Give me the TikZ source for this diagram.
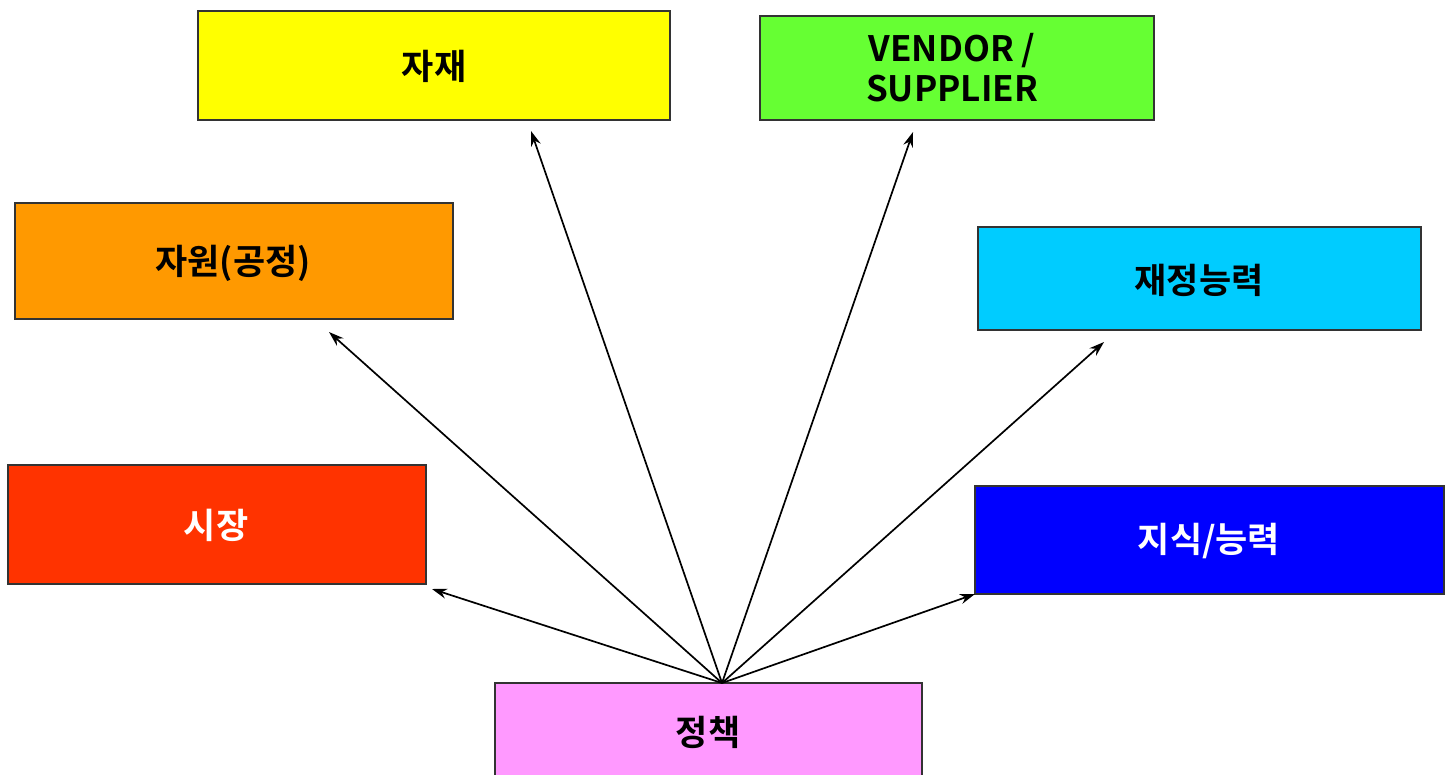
\documentclass[tikz,border=0pt]{standalone}
\usepackage{fontspec}
\newfontfamily\kr{Noto Sans CJK KR Bold}
\usetikzlibrary{arrows.meta}
\definecolor{cyel}{HTML}{FFFF00}
\definecolor{cgrn}{HTML}{66FF33}
\definecolor{corg}{HTML}{FF9900}
\definecolor{ccyn}{HTML}{00CCFF}
\definecolor{cred}{HTML}{FF3300}
\definecolor{cblu}{HTML}{0000FF}
\definecolor{cpnk}{HTML}{FF99FF}
\definecolor{cbrd}{HTML}{333333}
\begin{document}
\begin{tikzpicture}[x=1pt,y=-1pt,
  box/.style={draw=cbrd,line width=1.3pt,fill=#1},
  lbl/.style={font=\kr\fontsize{35}{40}\selectfont,align=center,inner sep=0pt},
  arr/.style={-{Stealth[length=15pt,width=10pt]},line width=1.7pt}]
\useasboundingbox (0,0) rectangle (1450,774);
\clip (0,0) rectangle (1450,774);
\draw[box=cyel] (198,11) rectangle (670,120);
\draw[box=cgrn] (760,16) rectangle (1154,120);
\draw[box=corg] (15,203) rectangle (453,319);
\draw[box=ccyn] (978,227) rectangle (1421,330);
\draw[box=cred] (8,465) rectangle (426,584);
\draw[box=cblu] (975,486) rectangle (1444,594);
\draw[box=cpnk] (495,683) rectangle (922,790);
\node[lbl] (jajae) at (434,66) {자재};
\node[lbl] (vendor) at (952,68) {VENDOR /\\SUPPLIER};
\node[lbl] (jawon) at (233,263) {자원(공정)};
\node[lbl] (jaejeong) at (1199,280) {재정능력};
\node[lbl,text=white] (sijang) at (216,525) {시장};
\node[lbl,text=white] (jisik) at (1209,541) {지식/능력};
\node[lbl] (jeongchaek) at (708,732) {정책};
\coordinate (src) at (722,683);
\coordinate (tSijang) at (432,589);
\coordinate (tJawon) at (329,332);
\coordinate (tJajae) at (531,131);
\coordinate (tVendor) at (913,132);
\coordinate (tJaejeong) at (1104,342);
\coordinate (tJisik) at (975,594);
\foreach \t in {tSijang,tJawon,tJajae,tVendor,tJaejeong,tJisik}
  \draw[arr] (src) -- (\t);
\end{tikzpicture}
\end{document}
